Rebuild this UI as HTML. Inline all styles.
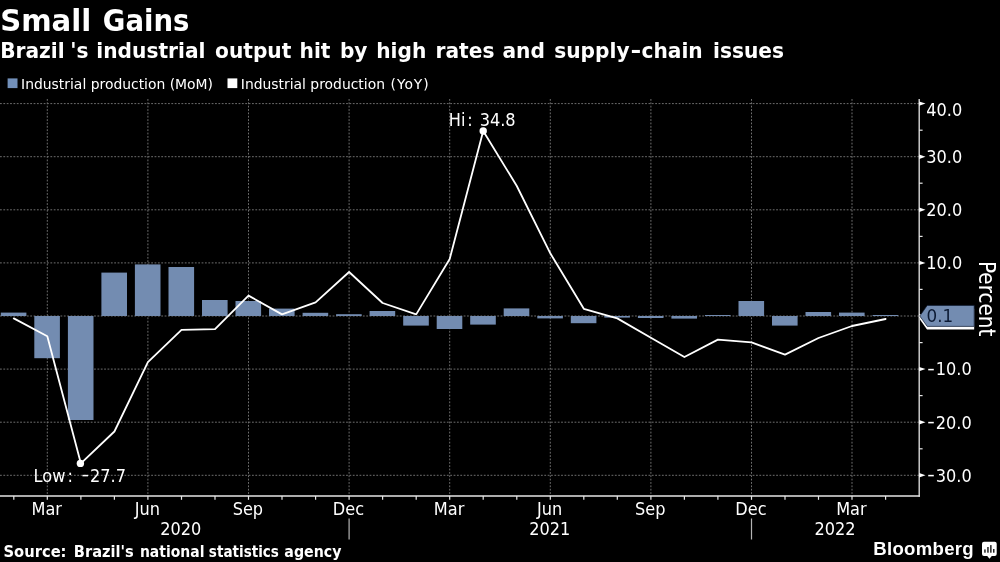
<!DOCTYPE html>
<html lang="en"><head><meta charset="utf-8"><title>Small Gains</title>
<style>html,body{margin:0;padding:0;background:#000;}body{width:1000px;height:562px;overflow:hidden;}svg{display:block;}.c{font-family:'DejaVu Sans Condensed','DejaVu Sans','Liberation Sans',sans-serif;font-size:17.6px;fill:#fff;}.b{font-family:'DejaVu Sans','Liberation Sans',sans-serif;font-weight:bold;fill:#fff;}.r{font-family:'DejaVu Sans','Liberation Sans',sans-serif;fill:#fff;}</style></head><body>
<svg width="1000" height="562" viewBox="0 0 1000 562">
<rect width="1000" height="562" fill="#000"/>
<text class="b" font-size="30" y="31.1"><tspan x="0.13" textLength="91.15" lengthAdjust="spacingAndGlyphs">Small</tspan> <tspan x="102.79" textLength="86.63" lengthAdjust="spacingAndGlyphs">Gains</tspan></text>
<text class="b" font-size="21.7" y="57.9"><tspan x="0.20" textLength="64.50" lengthAdjust="spacingAndGlyphs">Brazil</tspan><tspan x="70.30" textLength="18.18" lengthAdjust="spacingAndGlyphs">'s</tspan> <tspan x="96.35" textLength="109.10" lengthAdjust="spacingAndGlyphs">industrial</tspan> <tspan x="215.05" textLength="76.29" lengthAdjust="spacingAndGlyphs">output</tspan> <tspan x="299.54" textLength="30.91" lengthAdjust="spacingAndGlyphs">hit</tspan> <tspan x="339.91" textLength="27.59" lengthAdjust="spacingAndGlyphs">by</tspan> <tspan x="376.27" textLength="50.07" lengthAdjust="spacingAndGlyphs">high</tspan> <tspan x="435.56" textLength="58.88" lengthAdjust="spacingAndGlyphs">rates</tspan> <tspan x="502.50" textLength="42.41" lengthAdjust="spacingAndGlyphs">and</tspan> <tspan x="554.25" textLength="75.30" lengthAdjust="spacingAndGlyphs">supply</tspan><tspan x="630.60" textLength="10.80" lengthAdjust="spacingAndGlyphs">-</tspan><tspan x="641.50" textLength="61.20" lengthAdjust="spacingAndGlyphs">chain</tspan> <tspan x="713.02" textLength="70.97" lengthAdjust="spacingAndGlyphs">issues</tspan></text>
<rect x="7.6" y="78.4" width="9.9" height="9.7" fill="#7290ba"/>
<text class="r" x="21.1" y="89.2" font-size="13.9">Industrial production (MoM)</text>
<rect x="227.5" y="78.4" width="9.8" height="9.7" fill="#fff"/>
<text class="r" x="240.8" y="89.2" font-size="13.9">Industrial production <tspan x="390.6" letter-spacing="0.9">(YoY)</tspan></text>
<g stroke="#6e6e6e" stroke-width="1" stroke-dasharray="1.8 1.56" fill="none">
<line x1="0" y1="103.6" x2="919.2" y2="103.6"/>
<line x1="0" y1="156.7" x2="919.2" y2="156.7"/>
<line x1="0" y1="209.8" x2="919.2" y2="209.8"/>
<line x1="0" y1="262.9" x2="919.2" y2="262.9"/>
<line x1="0" y1="316.0" x2="919.2" y2="316.0"/>
<line x1="0" y1="369.1" x2="919.2" y2="369.1"/>
<line x1="0" y1="422.2" x2="919.2" y2="422.2"/>
<line x1="0" y1="475.3" x2="919.2" y2="475.3"/>
<line x1="47.3" y1="99" x2="47.3" y2="496"/>
<line x1="147.9" y1="99" x2="147.9" y2="496"/>
<line x1="248.5" y1="99" x2="248.5" y2="496"/>
<line x1="349.1" y1="99" x2="349.1" y2="496"/>
<line x1="449.7" y1="99" x2="449.7" y2="496"/>
<line x1="550.3" y1="99" x2="550.3" y2="496"/>
<line x1="650.9" y1="99" x2="650.9" y2="496"/>
<line x1="751.5" y1="99" x2="751.5" y2="496"/>
<line x1="852.0" y1="99" x2="852.0" y2="496"/>
</g>
<g fill="#738cb1">
<rect x="0.8" y="312.6" width="25.6" height="3.4"/>
<rect x="34.3" y="316.0" width="25.6" height="42.2"/>
<rect x="67.9" y="316.0" width="25.6" height="104.0"/>
<rect x="101.4" y="272.6" width="25.6" height="43.4"/>
<rect x="134.9" y="264.4" width="25.6" height="51.6"/>
<rect x="168.5" y="267.0" width="25.6" height="49.0"/>
<rect x="202.0" y="300.0" width="25.6" height="16.0"/>
<rect x="235.5" y="301.0" width="25.6" height="15.0"/>
<rect x="269.0" y="308.6" width="25.6" height="7.4"/>
<rect x="302.6" y="312.8" width="25.6" height="3.2"/>
<rect x="336.1" y="314.2" width="25.6" height="1.8"/>
<rect x="369.6" y="311.0" width="25.6" height="5.0"/>
<rect x="403.2" y="316.0" width="25.6" height="9.6"/>
<rect x="436.7" y="316.0" width="25.6" height="13.0"/>
<rect x="470.2" y="316.0" width="25.6" height="8.6"/>
<rect x="503.7" y="308.4" width="25.6" height="7.6"/>
<rect x="537.3" y="316.0" width="25.6" height="2.4"/>
<rect x="570.8" y="316.0" width="25.6" height="7.2"/>
<rect x="604.3" y="316.0" width="25.6" height="1.6"/>
<rect x="637.9" y="316.0" width="25.6" height="2.0"/>
<rect x="671.4" y="316.0" width="25.6" height="2.6"/>
<rect x="704.9" y="315.0" width="25.6" height="1.0"/>
<rect x="738.5" y="301.0" width="25.6" height="15.0"/>
<rect x="772.0" y="316.0" width="25.6" height="9.6"/>
<rect x="805.5" y="312.0" width="25.6" height="4.0"/>
<rect x="839.0" y="312.6" width="25.6" height="3.4"/>
<rect x="872.6" y="315.0" width="25.6" height="1.0"/>
</g>
<polyline points="13.8,318.4 47.3,336.2 80.9,463.4 114.4,431.5 147.9,362.2 181.5,329.8 215.0,329.1 248.5,295.6 282.0,314.4 315.6,302.4 349.1,272.0 382.6,303.0 416.2,314.4 449.7,259.0 483.2,131.0 516.8,186.0 550.3,253.3 583.8,308.8 617.3,318.4 650.9,337.8 684.4,357.0 717.9,339.6 751.5,342.4 785.0,354.6 818.5,338.0 852.0,326.0 885.6,319.0" fill="none" stroke="#fff" stroke-width="1.8" stroke-linejoin="round" stroke-linecap="round"/>
<circle cx="80.4" cy="463.4" r="3.7" fill="#fff"/>
<circle cx="483.2" cy="131" r="3.7" fill="#fff"/>
<text class="c" y="481.6"><tspan x="33.6" textLength="31.76" lengthAdjust="spacingAndGlyphs">Low</tspan><tspan x="67.6" textLength="5.44" lengthAdjust="spacingAndGlyphs">:</tspan> <tspan x="81.6" dy="-1.2" textLength="7.54" lengthAdjust="spacingAndGlyphs">-</tspan><tspan x="90" textLength="35.94" lengthAdjust="spacingAndGlyphs" dy="1.2">27.7</tspan></text>
<text class="c" y="125.7"><tspan x="448.8" textLength="16.63" lengthAdjust="spacingAndGlyphs">Hi</tspan><tspan x="467.3" textLength="5.44" lengthAdjust="spacingAndGlyphs">:</tspan> <tspan x="479.7" textLength="35.94" lengthAdjust="spacingAndGlyphs">34.8</tspan></text>
<g stroke="#e6e6e6" stroke-width="1.3" fill="none"><line x1="919.2" y1="99" x2="919.2" y2="496.7"/><line x1="0" y1="496" x2="919.9000000000001" y2="496"/></g>
<g fill="#fff" stroke="none">
<path d="M919.2 101.4L925.5 103.6L919.2 105.8Z"/>
<path d="M919.2 154.5L925.5 156.7L919.2 158.9Z"/>
<path d="M919.2 207.6L925.5 209.8L919.2 212.0Z"/>
<path d="M919.2 260.7L925.5 262.9L919.2 265.1Z"/>
<path d="M919.2 313.8L925.5 316.0L919.2 318.2Z"/>
<path d="M919.2 366.9L925.5 369.1L919.2 371.3Z"/>
<path d="M919.2 420.0L925.5 422.2L919.2 424.4Z"/>
<path d="M919.2 473.1L925.5 475.3L919.2 477.5Z"/>
</g>
<g stroke="#e6e6e6" stroke-width="1.2">
<line x1="919.2" y1="130.2" x2="922.6" y2="130.2"/>
<line x1="919.2" y1="183.2" x2="922.6" y2="183.2"/>
<line x1="919.2" y1="236.4" x2="922.6" y2="236.4"/>
<line x1="919.2" y1="289.4" x2="922.6" y2="289.4"/>
<line x1="919.2" y1="342.6" x2="922.6" y2="342.6"/>
<line x1="919.2" y1="395.6" x2="922.6" y2="395.6"/>
<line x1="919.2" y1="448.8" x2="922.6" y2="448.8"/>
<line x1="13.8" y1="496" x2="13.8" y2="499.8"/>
<line x1="47.3" y1="496" x2="47.3" y2="499.8"/>
<line x1="80.9" y1="496" x2="80.9" y2="499.8"/>
<line x1="114.4" y1="496" x2="114.4" y2="499.8"/>
<line x1="147.9" y1="496" x2="147.9" y2="499.8"/>
<line x1="181.5" y1="496" x2="181.5" y2="499.8"/>
<line x1="215.0" y1="496" x2="215.0" y2="499.8"/>
<line x1="248.5" y1="496" x2="248.5" y2="499.8"/>
<line x1="282.0" y1="496" x2="282.0" y2="499.8"/>
<line x1="315.6" y1="496" x2="315.6" y2="499.8"/>
<line x1="349.1" y1="496" x2="349.1" y2="499.8"/>
<line x1="382.6" y1="496" x2="382.6" y2="499.8"/>
<line x1="416.2" y1="496" x2="416.2" y2="499.8"/>
<line x1="449.7" y1="496" x2="449.7" y2="499.8"/>
<line x1="483.2" y1="496" x2="483.2" y2="499.8"/>
<line x1="516.8" y1="496" x2="516.8" y2="499.8"/>
<line x1="550.3" y1="496" x2="550.3" y2="499.8"/>
<line x1="583.8" y1="496" x2="583.8" y2="499.8"/>
<line x1="617.3" y1="496" x2="617.3" y2="499.8"/>
<line x1="650.9" y1="496" x2="650.9" y2="499.8"/>
<line x1="684.4" y1="496" x2="684.4" y2="499.8"/>
<line x1="717.9" y1="496" x2="717.9" y2="499.8"/>
<line x1="751.5" y1="496" x2="751.5" y2="499.8"/>
<line x1="785.0" y1="496" x2="785.0" y2="499.8"/>
<line x1="818.5" y1="496" x2="818.5" y2="499.8"/>
<line x1="852.0" y1="496" x2="852.0" y2="499.8"/>
<line x1="885.6" y1="496" x2="885.6" y2="499.8"/>
</g>
<g stroke="#b4b4b4" stroke-width="1.2"><line x1="349.1" y1="518.5" x2="349.1" y2="539.5"/><line x1="751.5" y1="518.5" x2="751.5" y2="539.5"/></g>
<text class="c" x="926.3" y="115.7" textLength="35.94" lengthAdjust="spacingAndGlyphs">40.0</text>
<text class="c" x="926.3" y="163.0" textLength="35.94" lengthAdjust="spacingAndGlyphs">30.0</text>
<text class="c" x="926.3" y="216.1" textLength="35.94" lengthAdjust="spacingAndGlyphs">20.0</text>
<text class="c" x="926.3" y="269.2" textLength="35.94" lengthAdjust="spacingAndGlyphs">10.0</text>
<text class="c" y="375.4"><tspan x="927.2" dy="-1.3" textLength="7.54" lengthAdjust="spacingAndGlyphs">-</tspan><tspan x="935.8" textLength="35.94" lengthAdjust="spacingAndGlyphs" dy="1.3">10.0</tspan></text>
<text class="c" y="428.5"><tspan x="927.2" dy="-1.3" textLength="7.54" lengthAdjust="spacingAndGlyphs">-</tspan><tspan x="935.8" textLength="35.94" lengthAdjust="spacingAndGlyphs" dy="1.3">20.0</tspan></text>
<text class="c" y="481.6"><tspan x="927.2" dy="-1.3" textLength="7.54" lengthAdjust="spacingAndGlyphs">-</tspan><tspan x="935.8" textLength="35.94" lengthAdjust="spacingAndGlyphs" dy="1.3">30.0</tspan></text>
<text class="c" x="31.47" y="514.5" textLength="30.46" lengthAdjust="spacingAndGlyphs">Mar</text>
<text class="c" x="134.69" y="514.5" textLength="25.23" lengthAdjust="spacingAndGlyphs">Jun</text>
<text class="c" x="232.68" y="514.5" textLength="30.44" lengthAdjust="spacingAndGlyphs">Sep</text>
<text class="c" x="332.88" y="514.5" textLength="31.25" lengthAdjust="spacingAndGlyphs">Dec</text>
<text class="c" x="433.87" y="514.5" textLength="30.46" lengthAdjust="spacingAndGlyphs">Mar</text>
<text class="c" x="537.09" y="514.5" textLength="25.23" lengthAdjust="spacingAndGlyphs">Jun</text>
<text class="c" x="635.08" y="514.5" textLength="30.44" lengthAdjust="spacingAndGlyphs">Sep</text>
<text class="c" x="735.28" y="514.5" textLength="31.25" lengthAdjust="spacingAndGlyphs">Dec</text>
<text class="c" x="836.17" y="514.5" textLength="30.46" lengthAdjust="spacingAndGlyphs">Mar</text>
<text class="c" x="160.16" y="535.2" textLength="41.08" lengthAdjust="spacingAndGlyphs">2020</text>
<text class="c" x="529.26" y="535.2" textLength="41.08" lengthAdjust="spacingAndGlyphs">2021</text>
<text class="c" x="814.46" y="535.2" textLength="41.08" lengthAdjust="spacingAndGlyphs">2022</text>
<text transform="translate(978.8 261) rotate(90)" font-family="'DejaVu Sans Condensed','DejaVu Sans','Liberation Sans',sans-serif" font-size="22.3" fill="#fff">Percent</text>
<path d="M919.6 319.1L927 308.7H974.2V329.6H927Z" fill="#fff"/>
<path d="M919.8 316L927.2 305.4H974.2V326.4H927.2Z" fill="#738cb1" stroke="#0e1a30" stroke-width="0.7"/>
<text class="c" x="926.6" y="322.3" textLength="26.67" lengthAdjust="spacingAndGlyphs" style="fill:#0c1a33">0.1</text>
<text class="b" font-size="15" y="556.6"><tspan x="3.52" textLength="62.96" lengthAdjust="spacingAndGlyphs">Source:</tspan> <tspan x="73.83" textLength="59.95" lengthAdjust="spacingAndGlyphs">Brazil's</tspan> <tspan x="139.95" textLength="64.51" lengthAdjust="spacingAndGlyphs">national</tspan> <tspan x="208.87" textLength="70.07" lengthAdjust="spacingAndGlyphs">statistics</tspan> <tspan x="284.37" textLength="57.06" lengthAdjust="spacingAndGlyphs">agency</tspan></text>
<text x="873.2" y="555.3" font-family="'Liberation Sans',sans-serif" font-weight="bold" font-size="18.6" letter-spacing="0.3" fill="#fff">Bloomberg</text>
<path d="M984 541.7h10.7a2 2 0 0 1 2 2v10.2a2 2 0 0 1 -2 2h-2.9l-2.3 2.9l-2.3-2.9h-3.2a2 2 0 0 1 -2-2v-10.2a2 2 0 0 1 2-2z" fill="#fff"/>
<g fill="#222"><rect x="984.2" y="549.4" width="1.5" height="3.3"/><rect x="987.2" y="547" width="1.5" height="5.7"/><rect x="990.1" y="545.1" width="1.5" height="7.6"/><rect x="993" y="549" width="1.5" height="3.7"/></g>
</svg></body></html>
